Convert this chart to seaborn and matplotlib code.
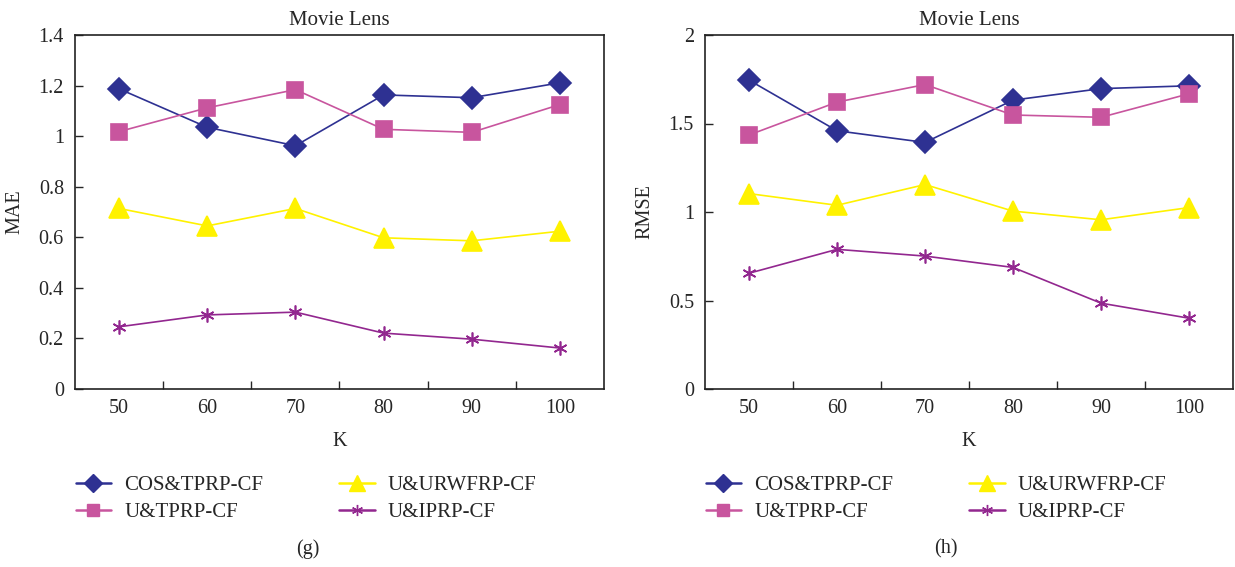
import matplotlib
matplotlib.use("Agg")
import matplotlib.pyplot as plt
import seaborn as sns
import pandas as pd
from matplotlib.lines import Line2D

sns.set_theme(style="white")
plt.rcParams['font.family'] = ['Liberation Serif', 'DejaVu Serif']

k_labels = ["50", "60", "70", "80", "90", "100"]
series_names = ["COS&TPRP-CF", "U&TPRP-CF", "U&URWFRP-CF", "U&IPRP-CF"]

mae_cos = [1.187, 1.035, 0.962, 1.163, 1.152, 1.211]
mae_ut = [1.018, 1.112, 1.184, 1.027, 1.015, 1.125]
mae_urw = [0.714, 0.645, 0.714, 0.598, 0.586, 0.624]
mae_ui = [0.246, 0.293, 0.304, 0.221, 0.197, 0.162]

rmse_cos = [1.745, 1.459, 1.393, 1.632, 1.697, 1.713]
rmse_ut = [1.435, 1.621, 1.720, 1.548, 1.535, 1.668]
rmse_urw = [1.104, 1.038, 1.155, 1.005, 0.956, 1.025]
rmse_ui = [0.654, 0.789, 0.751, 0.687, 0.485, 0.400]

colors = ["#2E3192", "#C8559E", "#FFF200", "#92278F"]
markers = ["D", "s", "^", (6, 2, 0)]
msizes = [11, 11, 14, 10]

fig = plt.figure(figsize=(12.35, 5.67), dpi=100)
ax1 = fig.add_axes([75/1235, 1-389/567, (604-75)/1235, (389-35)/567])
ax2 = fig.add_axes([705/1235, 1-389/567, (1233-705)/1235, (389-35)/567])

def draw(ax, data, ylabel, ylim, yticks, yticklabels):
    for name, vals, c, m, ms in zip(series_names, data, colors, markers, msizes):
        df = pd.DataFrame({"x": list(range(len(k_labels))), "y": vals})
        sns.lineplot(data=df, x="x", y="y", ax=ax, color=c, marker=m,
                     markersize=ms, markeredgecolor=c, markeredgewidth=1.2,
                     linewidth=1.2, legend=False)
    ax.set_xlim(-0.5, len(k_labels) - 0.5)
    ax.set_ylim(*ylim)
    ax.set_xticks([i + 0.5 for i in range(len(k_labels) - 1)])
    ax.set_xticklabels([])
    ax.set_xticks(range(len(k_labels)), minor=True)
    ax.set_xticklabels(k_labels, minor=True)
    ax.tick_params(axis="x", which="major", direction="in", length=6, width=1, bottom=True)
    ax.tick_params(axis="x", which="minor", length=0, labelsize=14.5, pad=7, bottom=True)
    ax.set_yticks(yticks)
    ax.set_yticklabels(yticklabels)
    ax.tick_params(axis="y", direction="in", length=6, width=1, labelsize=14.5, left=True, pad=8)
    for s in ax.spines.values():
        s.set_color("#222222")
        s.set_linewidth(1.2)
    ax.set_xlabel("K", fontsize=14.5, labelpad=10)
    ax.set_ylabel(ylabel, fontsize=14.5, labelpad=10)
    ax.set_title("Movie Lens", fontsize=15, pad=7)
    ax.grid(False)

draw(ax1, [mae_cos, mae_ut, mae_urw, mae_ui], "MAE", (0, 1.4),
     [0, 0.2, 0.4, 0.6, 0.8, 1.0, 1.2, 1.4], ["0", "0.2", "0.4", "0.6", "0.8", "1", "1.2", "1.4"])
draw(ax2, [rmse_cos, rmse_ut, rmse_urw, rmse_ui], "RMSE", (0, 2),
     [0, 0.5, 1.0, 1.5, 2.0], ["0", "0.5", "1", "1.5", "2"])

hsizes = [9, 9, 11, 8]
handles = [Line2D([], [], color=c, marker=m, markersize=ms, markeredgecolor=c, linewidth=1.8)
           for c, m, ms in zip(colors, markers, hsizes)]
for x0, lab_x, tag in [(57/1235, 308/1235, "(g)"), (687/1235, 946/1235, "(h)")]:
    fig.legend(handles, series_names,
               loc="upper left", bbox_to_anchor=(x0, 1-457/567), ncol=2, frameon=False,
               fontsize=15, handlelength=1.7, handletextpad=0.62, columnspacing=3.65,
               labelspacing=0.36)
    fig.text(lab_x, 1-549/567, tag, ha="center", va="center", fontsize=14.5)

fig.savefig("out.png", dpi=100)
